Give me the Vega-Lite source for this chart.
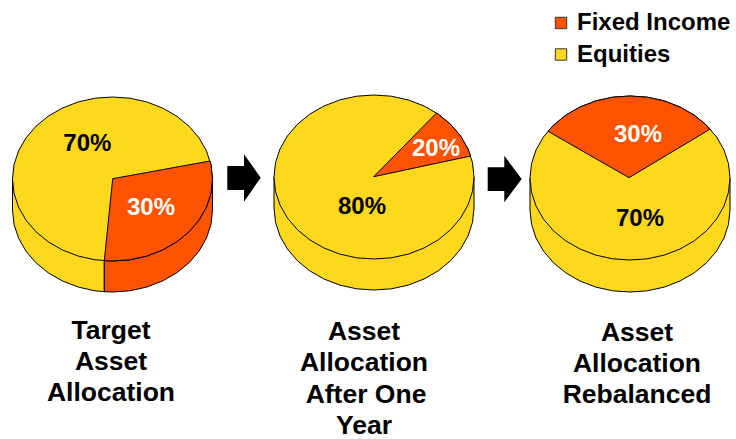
{"$schema":"https://vega.github.io/schema/vega-lite/v6.json","width":736,"height":439,"padding":0,"autosize":{"type":"none"},"background":"white","view":{"stroke":null},
"encoding":{
"x":{"field":"x","type":"quantitative","axis":null,"scale":{"domain":[0,736],"nice":false,"zero":false}},
"y":{"field":"y","type":"quantitative","axis":null,"scale":{"domain":[439,0],"nice":false,"zero":false}}
},
"layer":[
{"data":{"values":[
{"piece":"p1side","slice":"Equities","i":0,"x":12.5,"y":179},{"piece":"p1side","slice":"Equities","i":1,"x":12.5,"y":210},{"piece":"p1side","slice":"Equities","i":2,"x":14,"y":224.3},{"piece":"p1side","slice":"Equities","i":3,"x":18.5,"y":238},{"piece":"p1side","slice":"Equities","i":4,"x":25.9,"y":251},{"piece":"p1side","slice":"Equities","i":5,"x":35.9,"y":262.7},{"piece":"p1side","slice":"Equities","i":6,"x":48.2,"y":272.8},{"piece":"p1side","slice":"Equities","i":7,"x":62.5,"y":281},{"piece":"p1side","slice":"Equities","i":8,"x":78.3,"y":287.1},{"piece":"p1side","slice":"Equities","i":9,"x":95.1,"y":290.8},{"piece":"p1side","slice":"Equities","i":10,"x":104.3,"y":291.7},{"piece":"p1side","slice":"Equities","i":11,"x":104.3,"y":260.7},
{"piece":"p1sideB","slice":"Fixed Income","i":0,"x":212.5,"y":179},{"piece":"p1sideB","slice":"Fixed Income","i":1,"x":212.5,"y":210},{"piece":"p1sideB","slice":"Fixed Income","i":2,"x":211,"y":224.3},{"piece":"p1sideB","slice":"Fixed Income","i":3,"x":206.5,"y":238},{"piece":"p1sideB","slice":"Fixed Income","i":4,"x":199.1,"y":251},{"piece":"p1sideB","slice":"Fixed Income","i":5,"x":189.1,"y":262.7},{"piece":"p1sideB","slice":"Fixed Income","i":6,"x":176.8,"y":272.8},{"piece":"p1sideB","slice":"Fixed Income","i":7,"x":162.5,"y":281},{"piece":"p1sideB","slice":"Fixed Income","i":8,"x":146.7,"y":287.1},{"piece":"p1sideB","slice":"Fixed Income","i":9,"x":129.9,"y":290.8},{"piece":"p1sideB","slice":"Fixed Income","i":10,"x":112.5,"y":292},{"piece":"p1sideB","slice":"Fixed Income","i":11,"x":104.3,"y":291.7},{"piece":"p1sideB","slice":"Fixed Income","i":12,"x":104.3,"y":260.7},
{"piece":"p1top","slice":"Equities","i":0,"x":212.5,"y":179},{"piece":"p1top","slice":"Equities","i":1,"x":211,"y":193.3},{"piece":"p1top","slice":"Equities","i":2,"x":206.5,"y":207},{"piece":"p1top","slice":"Equities","i":3,"x":199.1,"y":220},{"piece":"p1top","slice":"Equities","i":4,"x":189.1,"y":231.7},{"piece":"p1top","slice":"Equities","i":5,"x":176.8,"y":241.8},{"piece":"p1top","slice":"Equities","i":6,"x":162.5,"y":250},{"piece":"p1top","slice":"Equities","i":7,"x":146.7,"y":256.1},{"piece":"p1top","slice":"Equities","i":8,"x":129.9,"y":259.8},{"piece":"p1top","slice":"Equities","i":9,"x":112.5,"y":261},{"piece":"p1top","slice":"Equities","i":10,"x":95.1,"y":259.8},{"piece":"p1top","slice":"Equities","i":11,"x":78.3,"y":256.1},{"piece":"p1top","slice":"Equities","i":12,"x":62.5,"y":250},{"piece":"p1top","slice":"Equities","i":13,"x":48.2,"y":241.8},{"piece":"p1top","slice":"Equities","i":14,"x":35.9,"y":231.7},{"piece":"p1top","slice":"Equities","i":15,"x":25.9,"y":220},{"piece":"p1top","slice":"Equities","i":16,"x":18.5,"y":207},{"piece":"p1top","slice":"Equities","i":17,"x":14,"y":193.3},{"piece":"p1top","slice":"Equities","i":18,"x":12.5,"y":179},{"piece":"p1top","slice":"Equities","i":19,"x":14,"y":164.7},{"piece":"p1top","slice":"Equities","i":20,"x":18.5,"y":151},{"piece":"p1top","slice":"Equities","i":21,"x":25.9,"y":138},{"piece":"p1top","slice":"Equities","i":22,"x":35.9,"y":126.3},{"piece":"p1top","slice":"Equities","i":23,"x":48.2,"y":116.2},{"piece":"p1top","slice":"Equities","i":24,"x":62.5,"y":108},{"piece":"p1top","slice":"Equities","i":25,"x":78.3,"y":101.9},{"piece":"p1top","slice":"Equities","i":26,"x":95.1,"y":98.2},{"piece":"p1top","slice":"Equities","i":27,"x":112.5,"y":97},{"piece":"p1top","slice":"Equities","i":28,"x":129.9,"y":98.2},{"piece":"p1top","slice":"Equities","i":29,"x":146.7,"y":101.9},{"piece":"p1top","slice":"Equities","i":30,"x":162.5,"y":108},{"piece":"p1top","slice":"Equities","i":31,"x":176.8,"y":116.2},{"piece":"p1top","slice":"Equities","i":32,"x":189.1,"y":126.3},{"piece":"p1top","slice":"Equities","i":33,"x":199.1,"y":138},{"piece":"p1top","slice":"Equities","i":34,"x":206.5,"y":151},{"piece":"p1top","slice":"Equities","i":35,"x":211,"y":164.7},{"piece":"p1top","slice":"Equities","i":36,"x":212.5,"y":179},
{"piece":"p1wedge","slice":"Fixed Income","i":0,"x":112.7,"y":178.7},{"piece":"p1wedge","slice":"Fixed Income","i":1,"x":210,"y":161},{"piece":"p1wedge","slice":"Fixed Income","i":2,"x":211,"y":164.7},{"piece":"p1wedge","slice":"Fixed Income","i":3,"x":212.5,"y":179},{"piece":"p1wedge","slice":"Fixed Income","i":4,"x":211,"y":193.3},{"piece":"p1wedge","slice":"Fixed Income","i":5,"x":206.5,"y":207},{"piece":"p1wedge","slice":"Fixed Income","i":6,"x":199.1,"y":220},{"piece":"p1wedge","slice":"Fixed Income","i":7,"x":189.1,"y":231.7},{"piece":"p1wedge","slice":"Fixed Income","i":8,"x":176.8,"y":241.8},{"piece":"p1wedge","slice":"Fixed Income","i":9,"x":162.5,"y":250},{"piece":"p1wedge","slice":"Fixed Income","i":10,"x":146.7,"y":256.1},{"piece":"p1wedge","slice":"Fixed Income","i":11,"x":129.9,"y":259.8},{"piece":"p1wedge","slice":"Fixed Income","i":12,"x":112.5,"y":261},{"piece":"p1wedge","slice":"Fixed Income","i":13,"x":104.3,"y":260.7},{"piece":"p1wedge","slice":"Fixed Income","i":14,"x":112.7,"y":178.7},
{"piece":"p2side","slice":"Equities","i":0,"x":274,"y":177},{"piece":"p2side","slice":"Equities","i":1,"x":274,"y":208},{"piece":"p2side","slice":"Equities","i":2,"x":275.5,"y":222.3},{"piece":"p2side","slice":"Equities","i":3,"x":280,"y":236},{"piece":"p2side","slice":"Equities","i":4,"x":287.4,"y":249},{"piece":"p2side","slice":"Equities","i":5,"x":297.4,"y":260.7},{"piece":"p2side","slice":"Equities","i":6,"x":309.7,"y":270.8},{"piece":"p2side","slice":"Equities","i":7,"x":324,"y":279},{"piece":"p2side","slice":"Equities","i":8,"x":339.8,"y":285.1},{"piece":"p2side","slice":"Equities","i":9,"x":356.6,"y":288.8},{"piece":"p2side","slice":"Equities","i":10,"x":374,"y":290},{"piece":"p2side","slice":"Equities","i":11,"x":391.4,"y":288.8},{"piece":"p2side","slice":"Equities","i":12,"x":408.2,"y":285.1},{"piece":"p2side","slice":"Equities","i":13,"x":424,"y":279},{"piece":"p2side","slice":"Equities","i":14,"x":438.3,"y":270.8},{"piece":"p2side","slice":"Equities","i":15,"x":450.6,"y":260.7},{"piece":"p2side","slice":"Equities","i":16,"x":460.6,"y":249},{"piece":"p2side","slice":"Equities","i":17,"x":468,"y":236},{"piece":"p2side","slice":"Equities","i":18,"x":472.5,"y":222.3},{"piece":"p2side","slice":"Equities","i":19,"x":474,"y":208},{"piece":"p2side","slice":"Equities","i":20,"x":474,"y":177},
{"piece":"p2top","slice":"Equities","i":0,"x":474,"y":177},{"piece":"p2top","slice":"Equities","i":1,"x":472.5,"y":191.3},{"piece":"p2top","slice":"Equities","i":2,"x":468,"y":205},{"piece":"p2top","slice":"Equities","i":3,"x":460.6,"y":218},{"piece":"p2top","slice":"Equities","i":4,"x":450.6,"y":229.7},{"piece":"p2top","slice":"Equities","i":5,"x":438.3,"y":239.8},{"piece":"p2top","slice":"Equities","i":6,"x":424,"y":248},{"piece":"p2top","slice":"Equities","i":7,"x":408.2,"y":254.1},{"piece":"p2top","slice":"Equities","i":8,"x":391.4,"y":257.8},{"piece":"p2top","slice":"Equities","i":9,"x":374,"y":259},{"piece":"p2top","slice":"Equities","i":10,"x":356.6,"y":257.8},{"piece":"p2top","slice":"Equities","i":11,"x":339.8,"y":254.1},{"piece":"p2top","slice":"Equities","i":12,"x":324,"y":248},{"piece":"p2top","slice":"Equities","i":13,"x":309.7,"y":239.8},{"piece":"p2top","slice":"Equities","i":14,"x":297.4,"y":229.7},{"piece":"p2top","slice":"Equities","i":15,"x":287.4,"y":218},{"piece":"p2top","slice":"Equities","i":16,"x":280,"y":205},{"piece":"p2top","slice":"Equities","i":17,"x":275.5,"y":191.3},{"piece":"p2top","slice":"Equities","i":18,"x":274,"y":177},{"piece":"p2top","slice":"Equities","i":19,"x":275.5,"y":162.7},{"piece":"p2top","slice":"Equities","i":20,"x":280,"y":149},{"piece":"p2top","slice":"Equities","i":21,"x":287.4,"y":136},{"piece":"p2top","slice":"Equities","i":22,"x":297.4,"y":124.3},{"piece":"p2top","slice":"Equities","i":23,"x":309.7,"y":114.2},{"piece":"p2top","slice":"Equities","i":24,"x":324,"y":106},{"piece":"p2top","slice":"Equities","i":25,"x":339.8,"y":99.9},{"piece":"p2top","slice":"Equities","i":26,"x":356.6,"y":96.2},{"piece":"p2top","slice":"Equities","i":27,"x":374,"y":95},{"piece":"p2top","slice":"Equities","i":28,"x":391.4,"y":96.2},{"piece":"p2top","slice":"Equities","i":29,"x":408.2,"y":99.9},{"piece":"p2top","slice":"Equities","i":30,"x":424,"y":106},{"piece":"p2top","slice":"Equities","i":31,"x":438.3,"y":114.2},{"piece":"p2top","slice":"Equities","i":32,"x":450.6,"y":124.3},{"piece":"p2top","slice":"Equities","i":33,"x":460.6,"y":136},{"piece":"p2top","slice":"Equities","i":34,"x":468,"y":149},{"piece":"p2top","slice":"Equities","i":35,"x":472.5,"y":162.7},{"piece":"p2top","slice":"Equities","i":36,"x":474,"y":177},
{"piece":"p2wedge","slice":"Fixed Income","i":0,"x":373.7,"y":176.7},{"piece":"p2wedge","slice":"Fixed Income","i":1,"x":436.5,"y":113},{"piece":"p2wedge","slice":"Fixed Income","i":2,"x":438.3,"y":114.2},{"piece":"p2wedge","slice":"Fixed Income","i":3,"x":450.6,"y":124.3},{"piece":"p2wedge","slice":"Fixed Income","i":4,"x":460.6,"y":136},{"piece":"p2wedge","slice":"Fixed Income","i":5,"x":468,"y":149},{"piece":"p2wedge","slice":"Fixed Income","i":6,"x":470.7,"y":156},{"piece":"p2wedge","slice":"Fixed Income","i":7,"x":373.7,"y":176.7},
{"piece":"p3side","slice":"Equities","i":0,"x":530,"y":178},{"piece":"p3side","slice":"Equities","i":1,"x":530,"y":210},{"piece":"p3side","slice":"Equities","i":2,"x":531.5,"y":224.3},{"piece":"p3side","slice":"Equities","i":3,"x":536,"y":238},{"piece":"p3side","slice":"Equities","i":4,"x":543.4,"y":251},{"piece":"p3side","slice":"Equities","i":5,"x":553.4,"y":262.7},{"piece":"p3side","slice":"Equities","i":6,"x":565.7,"y":272.8},{"piece":"p3side","slice":"Equities","i":7,"x":580,"y":281},{"piece":"p3side","slice":"Equities","i":8,"x":595.8,"y":287.1},{"piece":"p3side","slice":"Equities","i":9,"x":612.6,"y":290.8},{"piece":"p3side","slice":"Equities","i":10,"x":630,"y":292},{"piece":"p3side","slice":"Equities","i":11,"x":647.4,"y":290.8},{"piece":"p3side","slice":"Equities","i":12,"x":664.2,"y":287.1},{"piece":"p3side","slice":"Equities","i":13,"x":680,"y":281},{"piece":"p3side","slice":"Equities","i":14,"x":694.3,"y":272.8},{"piece":"p3side","slice":"Equities","i":15,"x":706.6,"y":262.7},{"piece":"p3side","slice":"Equities","i":16,"x":716.6,"y":251},{"piece":"p3side","slice":"Equities","i":17,"x":724,"y":238},{"piece":"p3side","slice":"Equities","i":18,"x":728.5,"y":224.3},{"piece":"p3side","slice":"Equities","i":19,"x":730,"y":210},{"piece":"p3side","slice":"Equities","i":20,"x":730,"y":178},
{"piece":"p3top","slice":"Equities","i":0,"x":730,"y":178},{"piece":"p3top","slice":"Equities","i":1,"x":728.5,"y":192.3},{"piece":"p3top","slice":"Equities","i":2,"x":724,"y":206},{"piece":"p3top","slice":"Equities","i":3,"x":716.6,"y":219},{"piece":"p3top","slice":"Equities","i":4,"x":706.6,"y":230.7},{"piece":"p3top","slice":"Equities","i":5,"x":694.3,"y":240.8},{"piece":"p3top","slice":"Equities","i":6,"x":680,"y":249},{"piece":"p3top","slice":"Equities","i":7,"x":664.2,"y":255.1},{"piece":"p3top","slice":"Equities","i":8,"x":647.4,"y":258.8},{"piece":"p3top","slice":"Equities","i":9,"x":630,"y":260},{"piece":"p3top","slice":"Equities","i":10,"x":612.6,"y":258.8},{"piece":"p3top","slice":"Equities","i":11,"x":595.8,"y":255.1},{"piece":"p3top","slice":"Equities","i":12,"x":580,"y":249},{"piece":"p3top","slice":"Equities","i":13,"x":565.7,"y":240.8},{"piece":"p3top","slice":"Equities","i":14,"x":553.4,"y":230.7},{"piece":"p3top","slice":"Equities","i":15,"x":543.4,"y":219},{"piece":"p3top","slice":"Equities","i":16,"x":536,"y":206},{"piece":"p3top","slice":"Equities","i":17,"x":531.5,"y":192.3},{"piece":"p3top","slice":"Equities","i":18,"x":530,"y":178},{"piece":"p3top","slice":"Equities","i":19,"x":531.5,"y":163.7},{"piece":"p3top","slice":"Equities","i":20,"x":536,"y":150},{"piece":"p3top","slice":"Equities","i":21,"x":543.4,"y":137},{"piece":"p3top","slice":"Equities","i":22,"x":553.4,"y":125.3},{"piece":"p3top","slice":"Equities","i":23,"x":565.7,"y":115.2},{"piece":"p3top","slice":"Equities","i":24,"x":580,"y":107},{"piece":"p3top","slice":"Equities","i":25,"x":595.8,"y":100.9},{"piece":"p3top","slice":"Equities","i":26,"x":612.6,"y":97.2},{"piece":"p3top","slice":"Equities","i":27,"x":630,"y":96},{"piece":"p3top","slice":"Equities","i":28,"x":647.4,"y":97.2},{"piece":"p3top","slice":"Equities","i":29,"x":664.2,"y":100.9},{"piece":"p3top","slice":"Equities","i":30,"x":680,"y":107},{"piece":"p3top","slice":"Equities","i":31,"x":694.3,"y":115.2},{"piece":"p3top","slice":"Equities","i":32,"x":706.6,"y":125.3},{"piece":"p3top","slice":"Equities","i":33,"x":716.6,"y":137},{"piece":"p3top","slice":"Equities","i":34,"x":724,"y":150},{"piece":"p3top","slice":"Equities","i":35,"x":728.5,"y":163.7},{"piece":"p3top","slice":"Equities","i":36,"x":730,"y":178},
{"piece":"p3wedge","slice":"Fixed Income","i":0,"x":629,"y":177.7},{"piece":"p3wedge","slice":"Fixed Income","i":1,"x":548,"y":131.3},{"piece":"p3wedge","slice":"Fixed Income","i":2,"x":553.4,"y":125.3},{"piece":"p3wedge","slice":"Fixed Income","i":3,"x":565.7,"y":115.2},{"piece":"p3wedge","slice":"Fixed Income","i":4,"x":580,"y":107},{"piece":"p3wedge","slice":"Fixed Income","i":5,"x":595.8,"y":100.9},{"piece":"p3wedge","slice":"Fixed Income","i":6,"x":612.6,"y":97.2},{"piece":"p3wedge","slice":"Fixed Income","i":7,"x":630,"y":96},{"piece":"p3wedge","slice":"Fixed Income","i":8,"x":647.4,"y":97.2},{"piece":"p3wedge","slice":"Fixed Income","i":9,"x":664.2,"y":100.9},{"piece":"p3wedge","slice":"Fixed Income","i":10,"x":680,"y":107},{"piece":"p3wedge","slice":"Fixed Income","i":11,"x":694.3,"y":115.2},{"piece":"p3wedge","slice":"Fixed Income","i":12,"x":706.6,"y":125.3},{"piece":"p3wedge","slice":"Fixed Income","i":13,"x":709.5,"y":129.5},{"piece":"p3wedge","slice":"Fixed Income","i":14,"x":629,"y":177.7}
]},
"mark":{"type":"line","stroke":"black","strokeWidth":1,"strokeJoin":"round","interpolate":"linear"},
"encoding":{
"order":{"field":"i","type":"quantitative"},
"detail":{"field":"piece"},
"fill":{"field":"slice","type":"nominal","scale":{"domain":["Fixed Income","Equities"],"range":["#ff5300","#fdd81c"]},
"legend":{"title":null,"orient":"none","legendX":549,"legendY":11,"symbolType":"square","symbolSize":130,"symbolStrokeColor":"#333333","symbolStrokeWidth":1,"labelFont":"Liberation Sans","labelFontWeight":"bold","labelFontSize":24,"labelColor":"black","rowPadding":7.5,"labelOffset":4,"labelLimit":300}}
}},
{"data":{"values":[
{"piece":"a1","i":0,"x":227.3,"y":166},{"piece":"a1","i":1,"x":244,"y":166},{"piece":"a1","i":2,"x":244,"y":154.3},{"piece":"a1","i":3,"x":260.7,"y":177.7},{"piece":"a1","i":4,"x":244,"y":201.7},{"piece":"a1","i":5,"x":244,"y":190},{"piece":"a1","i":6,"x":227.3,"y":190},
{"piece":"a2","i":0,"x":487.7,"y":167.3},{"piece":"a2","i":1,"x":504.3,"y":167.3},{"piece":"a2","i":2,"x":504.3,"y":155.7},{"piece":"a2","i":3,"x":521.7,"y":179},{"piece":"a2","i":4,"x":504.3,"y":202.3},{"piece":"a2","i":5,"x":504.3,"y":191},{"piece":"a2","i":6,"x":487.7,"y":191}
]},
"mark":{"type":"line","fill":"black","stroke":null},
"encoding":{"order":{"field":"i","type":"quantitative"},"detail":{"field":"piece"}}},
{"data":{"values":[
{"x":87.3,"y":143.7,"t":"70%","slice":"Equities"},{"x":151,"y":207.7,"t":"30%","slice":"Fixed Income"},{"x":436,"y":149.3,"t":"20%","slice":"Fixed Income"},{"x":362,"y":206.7,"t":"80%","slice":"Equities"},{"x":638,"y":135,"t":"30%","slice":"Fixed Income"},{"x":640,"y":219,"t":"70%","slice":"Equities"}
]},
"mark":{"type":"text","font":"Liberation Sans","fontWeight":"bold","fontSize":24,"align":"center","baseline":"middle"},
"encoding":{"text":{"field":"t"},"color":{"condition":{"test":"datum.slice==='Fixed Income'","value":"white"},"value":"black"}}},
{"data":{"values":[
{"x":111,"y":331,"t":"Target"},{"x":111,"y":362,"t":"Asset"},{"x":111,"y":393,"t":"Allocation"},
{"x":364,"y":332,"t":"Asset"},{"x":364,"y":363,"t":"Allocation"},{"x":366,"y":395,"t":"After One"},{"x":364,"y":426,"t":"Year"},
{"x":637,"y":333,"t":"Asset"},{"x":637,"y":364,"t":"Allocation"},{"x":637,"y":395,"t":"Rebalanced"}
]},
"mark":{"type":"text","font":"Liberation Sans","fontWeight":"bold","fontSize":26.5,"align":"center","baseline":"middle","color":"black"},
"encoding":{"text":{"field":"t"}}}
]}
